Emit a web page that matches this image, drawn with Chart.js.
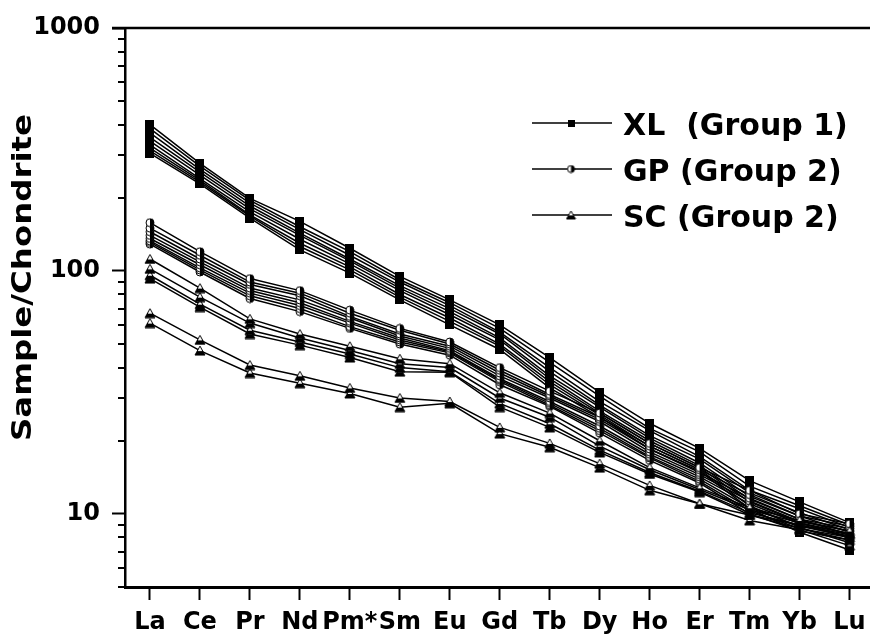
<!DOCTYPE html>
<html>
<head>
<meta charset="utf-8">
<script src="https://cdn.jsdelivr.net/npm/chart.js@4.4.1/dist/chart.umd.min.js"></script>
<style>
  html, body { margin: 0; padding: 0; background: #fff; overflow: hidden; }
  canvas { display: block; }
</style>
</head>
<body>
<canvas id="ree" width="880" height="640"></canvas>
<script>
// REE elements, chondrite-normalised
const elements = ["La", "Ce", "Pr", "Nd", "Pm*", "Sm", "Eu", "Gd", "Tb", "Dy", "Ho", "Er", "Tm", "Yb", "Lu"];
const yMajorTicks = [10, 100, 1000];
const yMinorTicks = [5, 6, 7, 8, 9, 20, 30, 40, 50, 60, 70, 80, 90, 200, 300, 400, 500, 600, 700, 800, 900];
const legendLabels = ["XL  (Group 1)", "GP (Group 2)", "SC (Group 2)"];
const yTitle = "Sample/Chondrite";

// XL samples (group 1)
const xl1 = [400, 277, 199, 160, 124, 95, 76, 60, 44, 31.6, 23.6, 18.6, 13.7, 11.2, 9.2];
const xl2 = [385, 270, 195, 152, 120, 92, 74, 58, 42, 30.5, 22.5, 18.0, 13.0, 10.8, 9.0];
const xl3 = [370, 262, 190, 148, 116, 90, 72, 56, 40, 29.0, 22.0, 17.2, 12.5, 10.5, 8.8];
const xl4 = [355, 255, 185, 143, 112, 87, 70, 55, 38.5, 28.0, 21.0, 16.8, 12.2, 10.1, 8.6];
const xl5 = [342, 248, 180, 140, 110, 85, 68, 53, 37, 27.5, 20.5, 16.2, 11.8, 9.8, 8.4];
const xl6 = [330, 240, 175, 135, 107, 83, 66, 52, 36, 26.5, 20.0, 15.8, 11.5, 9.5, 8.2];
const xl7 = [320, 236, 170, 130, 104, 80, 64, 50, 35, 26.0, 19.5, 15.5, 11.2, 9.2, 8.0];
const xl8 = [312, 232, 168, 126, 101, 78, 62, 49, 34, 25.5, 19.0, 15.2, 10.8, 8.8, 7.6];
const xl9 = [305, 228, 165, 122, 98, 76, 60, 47.5, 33, 25.0, 18.5, 15.0, 10.5, 8.4, 7.1];

// GP samples (group 2)
const gp1 = [158, 120, 93, 83, 69, 58, 51, 40, 32, 26, 19.5, 15.5, 12.5, 10.0, 9.1];
const gp2 = [150, 116, 90, 81, 67, 57, 50, 39, 31, 25, 19.0, 15.2, 12.0, 9.8, 8.9];
const gp3 = [145, 112, 88, 79, 65, 55, 49, 38, 30.5, 24.5, 18.5, 14.8, 11.6, 9.5, 8.7];
const gp4 = [140, 109, 85, 76, 64, 54, 48, 37, 30, 24, 18.0, 14.5, 11.3, 9.3, 8.5];
const gp5 = [136, 106, 83, 74, 62, 53, 47, 36, 29, 23, 17.6, 14.2, 11.0, 9.1, 8.3];
const gp6 = [133, 103, 81, 72, 61, 52, 46.5, 35.5, 28.5, 22.5, 17.2, 13.9, 10.6, 8.9, 8.1];
const gp7 = [131, 101, 79, 70, 59, 51, 46, 35, 28, 22, 17.0, 13.6, 10.3, 8.7, 8.0];
const gp8 = [129, 99, 77, 68, 58, 50, 45, 34, 27.7, 21.5, 16.6, 13.4, 10.0, 8.5, 7.8];

// SC samples (group 2)
const sc1 = [112, 85, 63.5, 55, 49, 43.5, 41.5, 31.5, 26, 20, 15.5, 12.8, 10.6, 9.4, 8.5];
const sc2 = [102, 78, 61, 53, 47, 41.5, 40, 30, 25, 19, 15.2, 12.6, 10.4, 9.2, 8.3];
const sc3 = [96, 73, 57, 51, 45.5, 40, 38.5, 28.5, 23.5, 18.3, 14.8, 12.4, 10.1, 9.0, 8.0];
const sc4 = [93, 71, 55, 49.5, 44, 38.5, 38.3, 27.5, 22.7, 17.9, 14.6, 12.3, 9.9, 8.7, 7.8];
const sc5 = [67, 52, 41, 37, 33, 30, 29, 22.7, 19.5, 16.1, 13.1, 11.0, 9.9, 9.0, 8.2];
const sc6 = [61, 47, 38, 34.5, 31.3, 27.5, 28.5, 21.4, 18.8, 15.5, 12.5, 11.0, 9.4, 8.6, 7.4];

const xlGroup = [xl1, xl2, xl3, xl4, xl5, xl6, xl7, xl8, xl9];
const gpGroup = [gp1, gp2, gp3, gp4, gp5, gp6, gp7, gp8];
const scGroup = [sc1, sc2, sc3, sc4, sc5, sc6];

const FONT = "'DejaVu Sans', 'Liberation Sans', sans-serif";

// ---- marker images ----
function squareMark(side) {
    const c = document.createElement("canvas");
    c.width = c.height = side;
    const g = c.getContext("2d");
    g.fillStyle = "#000";
    g.fillRect(0, 0, side, side);
    return c;
}

// circle, left half white / right half black
function halfCircle(d) {
    const c = document.createElement("canvas");
    c.width = c.height = d + 2;
    const g = c.getContext("2d");
    const m = c.width / 2, r = d / 2;
    g.beginPath(); g.arc(m, m, r, 0, Math.PI * 2);
    g.fillStyle = "#fff"; g.fill();
    g.beginPath(); g.arc(m, m, r, -Math.PI / 2, Math.PI / 2); g.closePath();
    g.fillStyle = "#000"; g.fill();
    g.beginPath(); g.arc(m, m, r, 0, Math.PI * 2);
    g.lineWidth = 1; g.strokeStyle = "#000"; g.stroke();
    return c;
}

// triangle, white top / black bottom
function halfTriangle(w) {
    const h = Math.round(w * 0.9);
    const c = document.createElement("canvas");
    c.width = w + 2; c.height = h + 2;
    const g = c.getContext("2d");
    g.beginPath();
    g.moveTo(c.width / 2, 1); g.lineTo(w + 1, h + 1); g.lineTo(1, h + 1); g.closePath();
    g.fillStyle = "#fff"; g.fill();
    g.save(); g.clip();
    g.fillStyle = "#000"; g.fillRect(0, 1 + h * 0.55, c.width, c.height);
    g.restore();
    g.lineWidth = 1; g.strokeStyle = "#000"; g.stroke();
    return c;
}

const marks = {
    xl: squareMark(9), gp: halfCircle(8), sc: halfTriangle(10)
};
const legendMarks = [squareMark(7), halfCircle(7), halfTriangle(9)];

function makeSet(label, values, style) {
    return {
        label: label,
        data: values,
        borderColor: "#000",
        borderWidth: 1.5,
        pointStyle: style,
        pointRadius: 4,
        pointHoverRadius: 4,
        pointBackgroundColor: "#000",
        pointBorderColor: "#000",
        fill: false,
        tension: 0
    };
}

const datasets = [];
scGroup.forEach((s) => datasets.push(makeSet("SC", s, marks.sc)));
gpGroup.forEach((s) => datasets.push(makeSet("GP", s, marks.gp)));
xlGroup.forEach((s) => datasets.push(makeSet("XL", s, marks.xl)));

// top frame line, short minor ticks, rotated axis title, legend box
const decorations = {
    id: "decorations",
    afterDraw(chart) {
        const { ctx, chartArea: a, scales } = chart;
        const y = scales.y;
        ctx.save();
        ctx.strokeStyle = "#000";

        ctx.lineWidth = 2.5;
        ctx.beginPath();
        ctx.moveTo(a.left - 13, a.top);
        ctx.lineTo(chart.width, a.top);
        ctx.stroke();

        ctx.lineWidth = 2;
        yMinorTicks.forEach((v) => {
            const py = Math.round(y.getPixelForValue(v));
            ctx.beginPath();
            ctx.moveTo(a.left - 7, py);
            ctx.lineTo(a.left, py);
            ctx.stroke();
        });

        // y title, spaced out along the axis
        ctx.fillStyle = "#000";
        ctx.font = "bold 27px " + FONT;
        ctx.translate(31, (a.top + a.bottom) / 2 - 30);
        ctx.rotate(-Math.PI / 2);
        ctx.textAlign = "center";
        ctx.textBaseline = "alphabetic";
        const natural = ctx.measureText(yTitle).width;
        ctx.scale(327 / natural, 1);
        ctx.fillText(yTitle, 0, 0);
        ctx.restore();

        // legend
        ctx.save();
        ctx.font = "bold 30px " + FONT;
        ctx.fillStyle = "#000";
        ctx.textAlign = "left";
        ctx.textBaseline = "alphabetic";
        legendLabels.forEach((txt, i) => {
            const ly = 123 + i * 46;
            ctx.strokeStyle = "#000";
            ctx.lineWidth = 1.5;
            ctx.beginPath();
            ctx.moveTo(532, ly);
            ctx.lineTo(612, ly);
            ctx.stroke();
            const m = legendMarks[i];
            ctx.drawImage(m, 571 - m.width / 2, ly - m.height / 2);
            ctx.fillText(txt, 623, ly + 12);
        });
        ctx.restore();
    }
};

new Chart(document.getElementById("ree"), {
    type: "line",
    data: { labels: elements, datasets: datasets },
    options: {
        responsive: false,
        animation: false,
        events: [],
        layout: { padding: { top: 28, right: 5, left: 0, bottom: 0 } },
        plugins: {
            legend: { display: false },
            tooltip: { enabled: false }
        },
        scales: {
            x: {
                type: "category",
                offset: true,
                grid: {
                    offset: false,
                    drawOnChartArea: false,
                    tickLength: 13,
                    tickWidth: 2,
                    tickColor: "#000"
                },
                border: { display: true, color: "#000", width: 3 },
                ticks: {
                    color: "#000",
                    font: { family: FONT, size: 24, weight: "bold" },
                    padding: 8,
                    autoSkip: false,
                    maxRotation: 0,
                    minRotation: 0
                },
                afterFit(s) { s.height = 53; }
            },
            y: {
                type: "logarithmic",
                min: 5,
                max: 1000,
                afterBuildTicks(s) {
                    s.ticks = yMajorTicks.map((v) => ({ value: v }));
                },
                grid: {
                    drawOnChartArea: false,
                    tickLength: 13,
                    tickWidth: 2,
                    tickColor: "#000"
                },
                border: { display: true, color: "#000", width: 2.5 },
                ticks: {
                    color: "#000",
                    font: { family: FONT, size: 24, weight: "bold" },
                    padding: 12,
                    autoSkip: false,
                    callback: (v) => String(v)
                },
                afterFit(s) { s.width = 125; }
            }
        }
    },
    plugins: [decorations]
});
</script>
</body>
</html>
